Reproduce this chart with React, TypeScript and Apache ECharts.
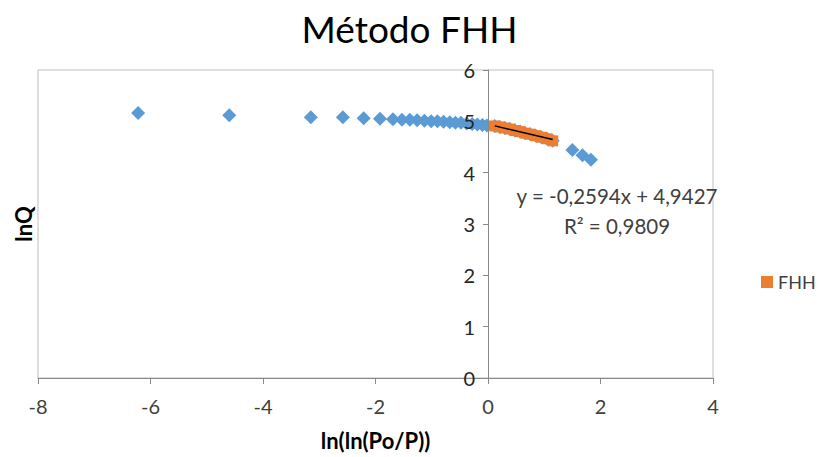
import React, { useEffect, useRef } from "react";
import * as echarts from "echarts";

// Blue series (all points of ln(ln(Po/P)) vs lnQ) outside the FHH range
const blueX = [-6.22, -4.6, -3.15, -2.58, -2.21, -1.92, -1.69, -1.53, -1.39, -1.26, -1.13, -1.01, -0.9, -0.79, -0.68, -0.58, -0.48, -0.38, -0.28, -0.19, -0.1, -0.02, 1.5, 1.68, 1.83];
const blueY = [5.16, 5.12, 5.08, 5.08, 5.06, 5.05, 5.04, 5.03, 5.03, 5.02, 5.01, 5.0, 5.0, 4.99, 4.98, 4.97, 4.97, 4.96, 4.95, 4.94, 4.93, 4.92, 4.44, 4.34, 4.25];

// FHH region points
const fhhX = [0.12, 0.21, 0.3, 0.39, 0.48, 0.57, 0.66, 0.75, 0.85, 0.95, 1.05, 1.15];
const fhhY = [4.91, 4.89, 4.87, 4.85, 4.82, 4.8, 4.77, 4.75, 4.72, 4.69, 4.66, 4.62];

// Linear trendline (from chart equation)
const trendSlope = -0.2594;
const trendIntercept = 4.9427;
const trendText = ["y = -0,2594x + 4,9427", "R² = 0,9809"];

const xRange = { min: -8, max: 4, interval: 2 };
const yRange = { min: 0, max: 6, interval: 1 };

const FONT = "Lato, 'Open Sans', sans-serif";

const GRID = { left: 38, right: 106, top: 70, bottom: 79 };
const WIDTH = 819;
const HEIGHT = 457;

export default function App() {
  const ref = useRef<HTMLDivElement>(null);
  useEffect(() => {
    if (!ref.current) return;
    const chart = echarts.init(ref.current, undefined, { renderer: "svg" });
    const blueData = blueX.map((x, i) => [x, blueY[i]]).concat(fhhX.map((x, i) => [x, fhhY[i]]));
    const fhhData = fhhX.map((x, i) => [x, fhhY[i]]);
    const tx0 = Math.min(...fhhX);
    const tx1 = Math.max(...fhhX);
    const trendData = [
      [tx0, trendIntercept + trendSlope * tx0],
      [tx1, trendIntercept + trendSlope * tx1],
    ];
    // y axis crosses x axis at x = 0: shift it from the grid's left edge
    const plotW = WIDTH - GRID.left - GRID.right;
    const zeroOffset = ((0 - xRange.min) / (xRange.max - xRange.min)) * plotW;
    chart.setOption({
      animation: false,
      backgroundColor: "#ffffff",
      textStyle: { fontFamily: FONT },
      title: {
        text: "Método FHH",
        left: "center",
        top: 5,
        textStyle: { fontFamily: FONT, fontSize: 37, fontWeight: "normal", color: "#000000" },
      },
      legend: {
        data: [{ name: "FHH", icon: "rect" }],
        left: 756,
        top: 268,
        itemWidth: 12,
        itemHeight: 12,
        textStyle: { fontFamily: FONT, fontSize: 18, color: "#404040" },
      },
      grid: {
        ...GRID,
        show: true,
        borderColor: "#BFBFBF",
        borderWidth: 1,
        containLabel: false,
        z: -10,
      },
      xAxis: {
        type: "value",
        min: xRange.min,
        max: xRange.max,
        interval: xRange.interval,
        axisLine: { onZero: true, lineStyle: { color: "#898989", width: 1 } },
        axisTick: { show: true, inside: false, length: 6, lineStyle: { color: "#898989" } },
        axisLabel: { margin: 18, fontSize: 20, color: "#404040", fontFamily: FONT },
        splitLine: { show: false },
        name: "ln(ln(Po/P))",
        nameLocation: "middle",
        nameGap: 51,
        nameTextStyle: { fontFamily: FONT, fontSize: 22, fontWeight: "bold", color: "#000000" },
      },
      yAxis: {
        type: "value",
        min: yRange.min,
        max: yRange.max,
        interval: yRange.interval,
        offset: -zeroOffset,
        z: 20,
        zlevel: 1,
        axisLine: { show: true, onZero: false, lineStyle: { color: "#898989", width: 1 } },
        axisTick: { show: true, inside: false, length: 5, lineStyle: { color: "#898989" } },
        axisLabel: { show: true, margin: 13, fontSize: 20, color: "#262626", fontFamily: FONT, hideOverlap: false },
        splitLine: { show: false },
      },
      graphic: [
        {
          type: "text",
          x: 23,
          y: 224,
          rotation: Math.PI / 2,
          style: {
            text: "lnQ",
            fontFamily: FONT,
            fontSize: 22,
            fontWeight: "bold",
            fill: "#000000",
            align: "center",
            verticalAlign: "middle",
          },
        },
        {
          type: "text",
          x: 617,
          y: 196,
          style: {
            text: trendText[0],
            fontFamily: FONT,
            fontSize: 20.5,
            fill: "#404040",
            align: "center",
            verticalAlign: "middle",
          },
        },
        {
          type: "text",
          x: 617,
          y: 226,
          style: {
            text: trendText[1],
            fontFamily: FONT,
            fontSize: 20.5,
            fill: "#404040",
            align: "center",
            verticalAlign: "middle",
          },
        },
      ],
      series: [
        {
          name: "lnQ",
          type: "scatter",
          symbol: "diamond",
          symbolSize: [14, 14],
          itemStyle: { color: "#5B9BD5", opacity: 1 },
          data: blueData,
          z: -3,
        },
        {
          name: "FHH",
          type: "scatter",
          symbol: "rect",
          symbolSize: 11,
          itemStyle: { color: "#ED7D31", opacity: 1 },
          data: fhhData,
          z: -2,
        },
        {
          name: "Lineal (FHH)",
          type: "line",
          symbol: "none",
          lineStyle: { color: "#000000", width: 1.5 },
          data: trendData,
          z: -1,
        },
      ],
    });
    return () => chart.dispose();
  }, []);
  return (
    <div
      ref={ref}
      style={{ position: "absolute", left: 0, top: 0, width: WIDTH, height: HEIGHT }}
    />
  );
}
